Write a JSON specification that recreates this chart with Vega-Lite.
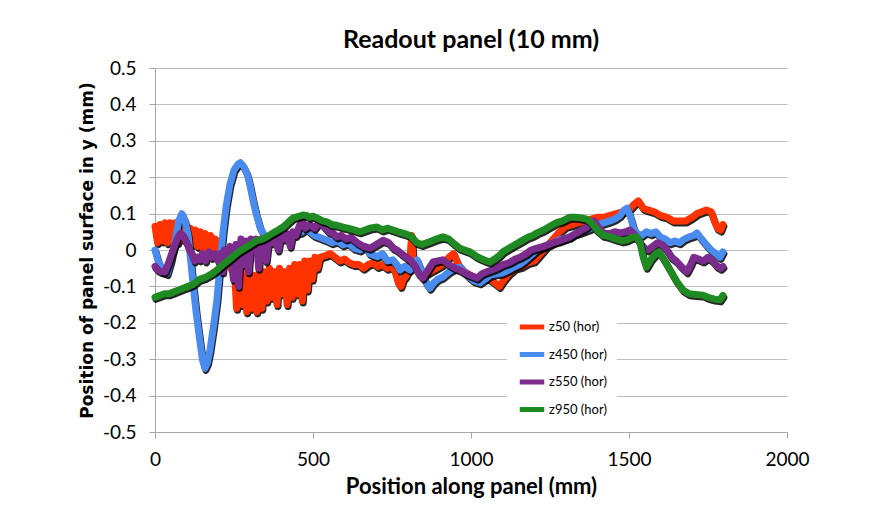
{
  "$schema": "https://vega.github.io/schema/vega-lite/v6.json",
  "autosize": {"type": "none"},
  "width": 632,
  "height": 364,
  "padding": {"left": 155, "top": 68, "right": 82, "bottom": 93},
  "background": "white",
  "title": {"text": "Readout panel (10 mm)", "font": "Lato", "fontSize": 25, "fontWeight": "bold", "color": "black", "anchor": "middle", "offset": 6},
  "config": {
    "view": {"stroke": null},
    "axis": {"labelFont": "Lato", "labelColor": "black", "titleColor": "black", "domainColor": "#A6A6A6", "tickColor": "#A6A6A6", "gridColor": "#BDBDBD", "gridWidth": 1},
    "legend": {"orient": "none", "legendX": 352, "legendY": 234, "fillColor": "white", "padding": 10, "symbolType": "stroke", "symbolStrokeWidth": 5, "symbolSize": 600, "labelFont": "Lato", "labelFontSize": 13, "labelColor": "black", "rowPadding": 2.5, "labelOffset": 2}
  },
  "data": {"values": [
    {"s":"z50 (hor)","x":0,"y":0.065},{"s":"z50 (hor)","x":8,"y":0.02},{"s":"z50 (hor)","x":16,"y":0.07},{"s":"z50 (hor)","x":24,"y":0.025},{"s":"z50 (hor)","x":32,"y":0.075},{"s":"z50 (hor)","x":40,"y":0.02},{"s":"z50 (hor)","x":48,"y":0.075},{"s":"z50 (hor)","x":56,"y":0.03},{"s":"z50 (hor)","x":64,"y":0.075},{"s":"z50 (hor)","x":72,"y":0.02},{"s":"z50 (hor)","x":80,"y":0.07},{"s":"z50 (hor)","x":88,"y":0.03},{"s":"z50 (hor)","x":96,"y":0.065},{"s":"z50 (hor)","x":104,"y":0.02},{"s":"z50 (hor)","x":112,"y":0.06},{"s":"z50 (hor)","x":120,"y":0.015},{"s":"z50 (hor)","x":128,"y":0.055},{"s":"z50 (hor)","x":136,"y":0.01},{"s":"z50 (hor)","x":144,"y":0.05},{"s":"z50 (hor)","x":152,"y":0.005},{"s":"z50 (hor)","x":160,"y":0.045},{"s":"z50 (hor)","x":168,"y":0.0},{"s":"z50 (hor)","x":176,"y":0.04},{"s":"z50 (hor)","x":184,"y":-0.005},{"s":"z50 (hor)","x":192,"y":0.03},{"s":"z50 (hor)","x":200,"y":-0.01},{"s":"z50 (hor)","x":210,"y":0.015},{"s":"z50 (hor)","x":220,"y":-0.03},{"s":"z50 (hor)","x":230,"y":-0.01},{"s":"z50 (hor)","x":240,"y":-0.05},{"s":"z50 (hor)","x":250,"y":-0.03},{"s":"z50 (hor)","x":258,"y":-0.16},{"s":"z50 (hor)","x":266,"y":-0.04},{"s":"z50 (hor)","x":274,"y":-0.15},{"s":"z50 (hor)","x":282,"y":-0.05},{"s":"z50 (hor)","x":290,"y":-0.17},{"s":"z50 (hor)","x":298,"y":-0.06},{"s":"z50 (hor)","x":306,"y":-0.16},{"s":"z50 (hor)","x":314,"y":-0.07},{"s":"z50 (hor)","x":322,"y":-0.17},{"s":"z50 (hor)","x":330,"y":-0.05},{"s":"z50 (hor)","x":338,"y":-0.16},{"s":"z50 (hor)","x":346,"y":-0.06},{"s":"z50 (hor)","x":354,"y":-0.14},{"s":"z50 (hor)","x":362,"y":-0.05},{"s":"z50 (hor)","x":370,"y":-0.13},{"s":"z50 (hor)","x":378,"y":-0.06},{"s":"z50 (hor)","x":386,"y":-0.15},{"s":"z50 (hor)","x":394,"y":-0.05},{"s":"z50 (hor)","x":402,"y":-0.12},{"s":"z50 (hor)","x":410,"y":-0.06},{"s":"z50 (hor)","x":418,"y":-0.15},{"s":"z50 (hor)","x":426,"y":-0.05},{"s":"z50 (hor)","x":434,"y":-0.13},{"s":"z50 (hor)","x":442,"y":-0.04},{"s":"z50 (hor)","x":450,"y":-0.12},{"s":"z50 (hor)","x":458,"y":-0.04},{"s":"z50 (hor)","x":466,"y":-0.14},{"s":"z50 (hor)","x":474,"y":-0.03},{"s":"z50 (hor)","x":482,"y":-0.11},{"s":"z50 (hor)","x":490,"y":-0.03},{"s":"z50 (hor)","x":498,"y":-0.08},{"s":"z50 (hor)","x":506,"y":-0.02},{"s":"z50 (hor)","x":514,"y":-0.05},{"s":"z50 (hor)","x":522,"y":-0.02},{"s":"z50 (hor)","x":540,"y":-0.015},{"s":"z50 (hor)","x":555,"y":-0.01},{"s":"z50 (hor)","x":570,"y":-0.02},{"s":"z50 (hor)","x":585,"y":-0.03},{"s":"z50 (hor)","x":600,"y":-0.025},{"s":"z50 (hor)","x":615,"y":-0.035},{"s":"z50 (hor)","x":630,"y":-0.04},{"s":"z50 (hor)","x":645,"y":-0.04},{"s":"z50 (hor)","x":660,"y":-0.05},{"s":"z50 (hor)","x":675,"y":-0.04},{"s":"z50 (hor)","x":690,"y":-0.035},{"s":"z50 (hor)","x":705,"y":-0.045},{"s":"z50 (hor)","x":720,"y":-0.04},{"s":"z50 (hor)","x":735,"y":-0.05},{"s":"z50 (hor)","x":750,"y":-0.045},{"s":"z50 (hor)","x":760,"y":-0.06},{"s":"z50 (hor)","x":770,"y":-0.09},{"s":"z50 (hor)","x":778,"y":-0.1},{"s":"z50 (hor)","x":786,"y":-0.08},{"s":"z50 (hor)","x":795,"y":-0.07},{"s":"z50 (hor)","x":805,"y":-0.05},{"s":"z50 (hor)","x":812,"y":0.04},{"s":"z50 (hor)","x":818,"y":-0.04},{"s":"z50 (hor)","x":830,"y":-0.05},{"s":"z50 (hor)","x":850,"y":-0.07},{"s":"z50 (hor)","x":870,"y":-0.06},{"s":"z50 (hor)","x":890,"y":-0.05},{"s":"z50 (hor)","x":910,"y":-0.04},{"s":"z50 (hor)","x":930,"y":-0.02},{"s":"z50 (hor)","x":945,"y":-0.01},{"s":"z50 (hor)","x":960,"y":-0.04},{"s":"z50 (hor)","x":980,"y":-0.06},{"s":"z50 (hor)","x":1000,"y":-0.07},{"s":"z50 (hor)","x":1020,"y":-0.08},{"s":"z50 (hor)","x":1040,"y":-0.075},{"s":"z50 (hor)","x":1060,"y":-0.08},{"s":"z50 (hor)","x":1075,"y":-0.09},{"s":"z50 (hor)","x":1090,"y":-0.1},{"s":"z50 (hor)","x":1105,"y":-0.08},{"s":"z50 (hor)","x":1120,"y":-0.065},{"s":"z50 (hor)","x":1140,"y":-0.05},{"s":"z50 (hor)","x":1160,"y":-0.045},{"s":"z50 (hor)","x":1180,"y":-0.035},{"s":"z50 (hor)","x":1200,"y":-0.03},{"s":"z50 (hor)","x":1220,"y":-0.01},{"s":"z50 (hor)","x":1240,"y":0.01},{"s":"z50 (hor)","x":1260,"y":0.03},{"s":"z50 (hor)","x":1280,"y":0.05},{"s":"z50 (hor)","x":1300,"y":0.065},{"s":"z50 (hor)","x":1320,"y":0.07},{"s":"z50 (hor)","x":1340,"y":0.075},{"s":"z50 (hor)","x":1360,"y":0.08},{"s":"z50 (hor)","x":1380,"y":0.085},{"s":"z50 (hor)","x":1400,"y":0.09},{"s":"z50 (hor)","x":1420,"y":0.09},{"s":"z50 (hor)","x":1440,"y":0.095},{"s":"z50 (hor)","x":1460,"y":0.1},{"s":"z50 (hor)","x":1480,"y":0.105},{"s":"z50 (hor)","x":1500,"y":0.11},{"s":"z50 (hor)","x":1515,"y":0.125},{"s":"z50 (hor)","x":1530,"y":0.135},{"s":"z50 (hor)","x":1545,"y":0.115},{"s":"z50 (hor)","x":1560,"y":0.11},{"s":"z50 (hor)","x":1580,"y":0.105},{"s":"z50 (hor)","x":1600,"y":0.095},{"s":"z50 (hor)","x":1620,"y":0.09},{"s":"z50 (hor)","x":1640,"y":0.08},{"s":"z50 (hor)","x":1660,"y":0.08},{"s":"z50 (hor)","x":1680,"y":0.08},{"s":"z50 (hor)","x":1700,"y":0.09},{"s":"z50 (hor)","x":1715,"y":0.1},{"s":"z50 (hor)","x":1730,"y":0.105},{"s":"z50 (hor)","x":1745,"y":0.11},{"s":"z50 (hor)","x":1760,"y":0.105},{"s":"z50 (hor)","x":1770,"y":0.08},{"s":"z50 (hor)","x":1780,"y":0.06},{"s":"z50 (hor)","x":1790,"y":0.055},{"s":"z50 (hor)","x":1797,"y":0.07},

    {"s":"z450 (hor)","x":0,"y":0.0},{"s":"z450 (hor)","x":10,"y":-0.03},{"s":"z450 (hor)","x":25,"y":-0.06},{"s":"z450 (hor)","x":38,"y":-0.065},{"s":"z450 (hor)","x":50,"y":-0.03},{"s":"z450 (hor)","x":63,"y":0.02},{"s":"z450 (hor)","x":75,"y":0.08},{"s":"z450 (hor)","x":85,"y":0.1},{"s":"z450 (hor)","x":95,"y":0.08},{"s":"z450 (hor)","x":105,"y":0.04},{"s":"z450 (hor)","x":113,"y":-0.03},{"s":"z450 (hor)","x":120,"y":-0.09},{"s":"z450 (hor)","x":130,"y":-0.17},{"s":"z450 (hor)","x":142,"y":-0.25},{"s":"z450 (hor)","x":150,"y":-0.3},{"s":"z450 (hor)","x":158,"y":-0.325},{"s":"z450 (hor)","x":166,"y":-0.31},{"s":"z450 (hor)","x":174,"y":-0.275},{"s":"z450 (hor)","x":185,"y":-0.21},{"s":"z450 (hor)","x":196,"y":-0.137},{"s":"z450 (hor)","x":205,"y":-0.05},{"s":"z450 (hor)","x":215,"y":0.047},{"s":"z450 (hor)","x":225,"y":0.12},{"s":"z450 (hor)","x":237,"y":0.18},{"s":"z450 (hor)","x":250,"y":0.22},{"s":"z450 (hor)","x":262,"y":0.235},{"s":"z450 (hor)","x":270,"y":0.24},{"s":"z450 (hor)","x":280,"y":0.23},{"s":"z450 (hor)","x":291,"y":0.21},{"s":"z450 (hor)","x":300,"y":0.18},{"s":"z450 (hor)","x":310,"y":0.137},{"s":"z450 (hor)","x":320,"y":0.1},{"s":"z450 (hor)","x":332,"y":0.063},{"s":"z450 (hor)","x":348,"y":0.036},{"s":"z450 (hor)","x":365,"y":0.025},{"s":"z450 (hor)","x":385,"y":0.03},{"s":"z450 (hor)","x":405,"y":0.035},{"s":"z450 (hor)","x":425,"y":0.04},{"s":"z450 (hor)","x":445,"y":0.045},{"s":"z450 (hor)","x":465,"y":0.05},{"s":"z450 (hor)","x":480,"y":0.06},{"s":"z450 (hor)","x":490,"y":0.05},{"s":"z450 (hor)","x":505,"y":0.04},{"s":"z450 (hor)","x":520,"y":0.035},{"s":"z450 (hor)","x":544,"y":0.027},{"s":"z450 (hor)","x":560,"y":0.02},{"s":"z450 (hor)","x":575,"y":0.025},{"s":"z450 (hor)","x":595,"y":0.014},{"s":"z450 (hor)","x":610,"y":0.02},{"s":"z450 (hor)","x":630,"y":0.005},{"s":"z450 (hor)","x":649,"y":0.0},{"s":"z450 (hor)","x":665,"y":0.01},{"s":"z450 (hor)","x":680,"y":-0.01},{"s":"z450 (hor)","x":703,"y":-0.018},{"s":"z450 (hor)","x":720,"y":-0.01},{"s":"z450 (hor)","x":735,"y":-0.03},{"s":"z450 (hor)","x":753,"y":-0.027},{"s":"z450 (hor)","x":765,"y":-0.04},{"s":"z450 (hor)","x":775,"y":-0.055},{"s":"z450 (hor)","x":790,"y":-0.045},{"s":"z450 (hor)","x":807,"y":-0.055},{"s":"z450 (hor)","x":818,"y":-0.04},{"s":"z450 (hor)","x":829,"y":-0.027},{"s":"z450 (hor)","x":845,"y":-0.06},{"s":"z450 (hor)","x":858,"y":-0.09},{"s":"z450 (hor)","x":870,"y":-0.105},{"s":"z450 (hor)","x":882,"y":-0.09},{"s":"z450 (hor)","x":895,"y":-0.08},{"s":"z450 (hor)","x":911,"y":-0.074},{"s":"z450 (hor)","x":930,"y":-0.06},{"s":"z450 (hor)","x":950,"y":-0.05},{"s":"z450 (hor)","x":965,"y":-0.047},{"s":"z450 (hor)","x":980,"y":-0.06},{"s":"z450 (hor)","x":995,"y":-0.075},{"s":"z450 (hor)","x":1010,"y":-0.085},{"s":"z450 (hor)","x":1028,"y":-0.09},{"s":"z450 (hor)","x":1045,"y":-0.08},{"s":"z450 (hor)","x":1060,"y":-0.07},{"s":"z450 (hor)","x":1080,"y":-0.065},{"s":"z450 (hor)","x":1101,"y":-0.063},{"s":"z450 (hor)","x":1120,"y":-0.055},{"s":"z450 (hor)","x":1140,"y":-0.045},{"s":"z450 (hor)","x":1155,"y":-0.04},{"s":"z450 (hor)","x":1170,"y":-0.03},{"s":"z450 (hor)","x":1190,"y":-0.015},{"s":"z450 (hor)","x":1209,"y":0.0},{"s":"z450 (hor)","x":1230,"y":0.01},{"s":"z450 (hor)","x":1250,"y":0.015},{"s":"z450 (hor)","x":1270,"y":0.025},{"s":"z450 (hor)","x":1290,"y":0.03},{"s":"z450 (hor)","x":1313,"y":0.036},{"s":"z450 (hor)","x":1330,"y":0.045},{"s":"z450 (hor)","x":1350,"y":0.05},{"s":"z450 (hor)","x":1380,"y":0.06},{"s":"z450 (hor)","x":1400,"y":0.07},{"s":"z450 (hor)","x":1418,"y":0.074},{"s":"z450 (hor)","x":1440,"y":0.08},{"s":"z450 (hor)","x":1455,"y":0.085},{"s":"z450 (hor)","x":1472,"y":0.095},{"s":"z450 (hor)","x":1485,"y":0.11},{"s":"z450 (hor)","x":1494,"y":0.115},{"s":"z450 (hor)","x":1505,"y":0.09},{"s":"z450 (hor)","x":1515,"y":0.06},{"s":"z450 (hor)","x":1525,"y":0.045},{"s":"z450 (hor)","x":1540,"y":0.04},{"s":"z450 (hor)","x":1555,"y":0.05},{"s":"z450 (hor)","x":1570,"y":0.045},{"s":"z450 (hor)","x":1585,"y":0.05},{"s":"z450 (hor)","x":1600,"y":0.035},{"s":"z450 (hor)","x":1615,"y":0.03},{"s":"z450 (hor)","x":1630,"y":0.02},{"s":"z450 (hor)","x":1645,"y":0.025},{"s":"z450 (hor)","x":1660,"y":0.02},{"s":"z450 (hor)","x":1675,"y":0.03},{"s":"z450 (hor)","x":1690,"y":0.036},{"s":"z450 (hor)","x":1705,"y":0.04},{"s":"z450 (hor)","x":1715,"y":0.047},{"s":"z450 (hor)","x":1730,"y":0.03},{"s":"z450 (hor)","x":1745,"y":0.014},{"s":"z450 (hor)","x":1760,"y":0.0},{"s":"z450 (hor)","x":1775,"y":-0.01},{"s":"z450 (hor)","x":1788,"y":-0.02},{"s":"z450 (hor)","x":1797,"y":-0.005},

    {"s":"z550 (hor)","x":0,"y":-0.045},{"s":"z550 (hor)","x":10,"y":-0.055},{"s":"z550 (hor)","x":20,"y":-0.06},{"s":"z550 (hor)","x":32,"y":-0.06},{"s":"z550 (hor)","x":45,"y":-0.03},{"s":"z550 (hor)","x":57,"y":0.0},{"s":"z550 (hor)","x":70,"y":0.03},{"s":"z550 (hor)","x":80,"y":0.045},{"s":"z550 (hor)","x":89,"y":0.04},{"s":"z550 (hor)","x":100,"y":0.02},{"s":"z550 (hor)","x":110,"y":0.0},{"s":"z550 (hor)","x":117,"y":-0.01},{"s":"z550 (hor)","x":125,"y":-0.03},{"s":"z550 (hor)","x":135,"y":-0.02},{"s":"z550 (hor)","x":142,"y":-0.027},{"s":"z550 (hor)","x":150,"y":-0.01},{"s":"z550 (hor)","x":160,"y":-0.03},{"s":"z550 (hor)","x":170,"y":-0.005},{"s":"z550 (hor)","x":180,"y":-0.02},{"s":"z550 (hor)","x":190,"y":-0.01},{"s":"z550 (hor)","x":200,"y":-0.03},{"s":"z550 (hor)","x":207,"y":-0.01},{"s":"z550 (hor)","x":214,"y":-0.06},{"s":"z550 (hor)","x":220,"y":0.0},{"s":"z550 (hor)","x":228,"y":-0.02},{"s":"z550 (hor)","x":237,"y":0.01},{"s":"z550 (hor)","x":248,"y":-0.08},{"s":"z550 (hor)","x":256,"y":0.015},{"s":"z550 (hor)","x":264,"y":-0.1},{"s":"z550 (hor)","x":272,"y":0.03},{"s":"z550 (hor)","x":280,"y":-0.04},{"s":"z550 (hor)","x":288,"y":0.025},{"s":"z550 (hor)","x":296,"y":-0.06},{"s":"z550 (hor)","x":304,"y":0.03},{"s":"z550 (hor)","x":312,"y":0.01},{"s":"z550 (hor)","x":320,"y":0.03},{"s":"z550 (hor)","x":328,"y":-0.05},{"s":"z550 (hor)","x":336,"y":0.03},{"s":"z550 (hor)","x":344,"y":0.015},{"s":"z550 (hor)","x":352,"y":-0.03},{"s":"z550 (hor)","x":360,"y":0.035},{"s":"z550 (hor)","x":370,"y":0.02},{"s":"z550 (hor)","x":380,"y":0.035},{"s":"z550 (hor)","x":390,"y":0.0},{"s":"z550 (hor)","x":398,"y":0.04},{"s":"z550 (hor)","x":408,"y":0.03},{"s":"z550 (hor)","x":418,"y":0.045},{"s":"z550 (hor)","x":428,"y":0.01},{"s":"z550 (hor)","x":436,"y":0.05},{"s":"z550 (hor)","x":446,"y":0.04},{"s":"z550 (hor)","x":456,"y":0.065},{"s":"z550 (hor)","x":466,"y":0.08},{"s":"z550 (hor)","x":476,"y":0.06},{"s":"z550 (hor)","x":490,"y":0.07},{"s":"z550 (hor)","x":505,"y":0.06},{"s":"z550 (hor)","x":522,"y":0.08},{"s":"z550 (hor)","x":535,"y":0.065},{"s":"z550 (hor)","x":550,"y":0.05},{"s":"z550 (hor)","x":565,"y":0.045},{"s":"z550 (hor)","x":576,"y":0.036},{"s":"z550 (hor)","x":590,"y":0.04},{"s":"z550 (hor)","x":605,"y":0.03},{"s":"z550 (hor)","x":620,"y":0.035},{"s":"z550 (hor)","x":640,"y":0.02},{"s":"z550 (hor)","x":660,"y":0.01},{"s":"z550 (hor)","x":680,"y":0.005},{"s":"z550 (hor)","x":700,"y":0.015},{"s":"z550 (hor)","x":722,"y":0.027},{"s":"z550 (hor)","x":740,"y":0.02},{"s":"z550 (hor)","x":755,"y":0.005},{"s":"z550 (hor)","x":766,"y":0.0},{"s":"z550 (hor)","x":780,"y":-0.01},{"s":"z550 (hor)","x":795,"y":-0.02},{"s":"z550 (hor)","x":807,"y":-0.027},{"s":"z550 (hor)","x":820,"y":-0.04},{"s":"z550 (hor)","x":835,"y":-0.065},{"s":"z550 (hor)","x":848,"y":-0.077},{"s":"z550 (hor)","x":860,"y":-0.06},{"s":"z550 (hor)","x":880,"y":-0.033},{"s":"z550 (hor)","x":895,"y":-0.03},{"s":"z550 (hor)","x":911,"y":-0.027},{"s":"z550 (hor)","x":930,"y":-0.04},{"s":"z550 (hor)","x":950,"y":-0.05},{"s":"z550 (hor)","x":965,"y":-0.055},{"s":"z550 (hor)","x":985,"y":-0.065},{"s":"z550 (hor)","x":1000,"y":-0.07},{"s":"z550 (hor)","x":1019,"y":-0.077},{"s":"z550 (hor)","x":1035,"y":-0.065},{"s":"z550 (hor)","x":1050,"y":-0.06},{"s":"z550 (hor)","x":1065,"y":-0.055},{"s":"z550 (hor)","x":1080,"y":-0.05},{"s":"z550 (hor)","x":1101,"y":-0.04},{"s":"z550 (hor)","x":1120,"y":-0.035},{"s":"z550 (hor)","x":1140,"y":-0.025},{"s":"z550 (hor)","x":1155,"y":-0.02},{"s":"z550 (hor)","x":1175,"y":-0.01},{"s":"z550 (hor)","x":1190,"y":0.0},{"s":"z550 (hor)","x":1209,"y":0.005},{"s":"z550 (hor)","x":1230,"y":0.01},{"s":"z550 (hor)","x":1245,"y":0.015},{"s":"z550 (hor)","x":1260,"y":0.02},{"s":"z550 (hor)","x":1280,"y":0.025},{"s":"z550 (hor)","x":1295,"y":0.03},{"s":"z550 (hor)","x":1313,"y":0.036},{"s":"z550 (hor)","x":1330,"y":0.045},{"s":"z550 (hor)","x":1350,"y":0.055},{"s":"z550 (hor)","x":1367,"y":0.063},{"s":"z550 (hor)","x":1380,"y":0.075},{"s":"z550 (hor)","x":1390,"y":0.08},{"s":"z550 (hor)","x":1400,"y":0.065},{"s":"z550 (hor)","x":1418,"y":0.047},{"s":"z550 (hor)","x":1440,"y":0.045},{"s":"z550 (hor)","x":1455,"y":0.05},{"s":"z550 (hor)","x":1472,"y":0.047},{"s":"z550 (hor)","x":1490,"y":0.05},{"s":"z550 (hor)","x":1503,"y":0.055},{"s":"z550 (hor)","x":1520,"y":0.04},{"s":"z550 (hor)","x":1535,"y":0.02},{"s":"z550 (hor)","x":1550,"y":0.005},{"s":"z550 (hor)","x":1560,"y":0.0},{"s":"z550 (hor)","x":1575,"y":0.01},{"s":"z550 (hor)","x":1590,"y":0.02},{"s":"z550 (hor)","x":1605,"y":0.015},{"s":"z550 (hor)","x":1620,"y":0.0},{"s":"z550 (hor)","x":1635,"y":-0.02},{"s":"z550 (hor)","x":1650,"y":-0.03},{"s":"z550 (hor)","x":1665,"y":-0.045},{"s":"z550 (hor)","x":1683,"y":-0.06},{"s":"z550 (hor)","x":1695,"y":-0.04},{"s":"z550 (hor)","x":1705,"y":-0.02},{"s":"z550 (hor)","x":1720,"y":-0.025},{"s":"z550 (hor)","x":1735,"y":-0.03},{"s":"z550 (hor)","x":1750,"y":-0.02},{"s":"z550 (hor)","x":1765,"y":-0.03},{"s":"z550 (hor)","x":1780,"y":-0.045},{"s":"z550 (hor)","x":1790,"y":-0.05},{"s":"z550 (hor)","x":1797,"y":-0.045},

    {"s":"z950 (hor)","x":0,"y":-0.13},{"s":"z950 (hor)","x":15,"y":-0.125},{"s":"z950 (hor)","x":30,"y":-0.12},{"s":"z950 (hor)","x":45,"y":-0.12},{"s":"z950 (hor)","x":60,"y":-0.115},{"s":"z950 (hor)","x":75,"y":-0.11},{"s":"z950 (hor)","x":89,"y":-0.105},{"s":"z950 (hor)","x":105,"y":-0.1},{"s":"z950 (hor)","x":120,"y":-0.095},{"s":"z950 (hor)","x":142,"y":-0.08},{"s":"z950 (hor)","x":160,"y":-0.075},{"s":"z950 (hor)","x":180,"y":-0.065},{"s":"z950 (hor)","x":196,"y":-0.055},{"s":"z950 (hor)","x":215,"y":-0.04},{"s":"z950 (hor)","x":230,"y":-0.03},{"s":"z950 (hor)","x":247,"y":-0.018},{"s":"z950 (hor)","x":265,"y":-0.005},{"s":"z950 (hor)","x":283,"y":0.005},{"s":"z950 (hor)","x":301,"y":0.014},{"s":"z950 (hor)","x":320,"y":0.025},{"s":"z950 (hor)","x":340,"y":0.03},{"s":"z950 (hor)","x":354,"y":0.036},{"s":"z950 (hor)","x":370,"y":0.045},{"s":"z950 (hor)","x":390,"y":0.055},{"s":"z950 (hor)","x":405,"y":0.063},{"s":"z950 (hor)","x":420,"y":0.075},{"s":"z950 (hor)","x":437,"y":0.088},{"s":"z950 (hor)","x":452,"y":0.092},{"s":"z950 (hor)","x":468,"y":0.096},{"s":"z950 (hor)","x":480,"y":0.095},{"s":"z950 (hor)","x":490,"y":0.09},{"s":"z950 (hor)","x":500,"y":0.093},{"s":"z950 (hor)","x":512,"y":0.088},{"s":"z950 (hor)","x":530,"y":0.08},{"s":"z950 (hor)","x":544,"y":0.077},{"s":"z950 (hor)","x":560,"y":0.07},{"s":"z950 (hor)","x":575,"y":0.068},{"s":"z950 (hor)","x":595,"y":0.063},{"s":"z950 (hor)","x":610,"y":0.06},{"s":"z950 (hor)","x":630,"y":0.055},{"s":"z950 (hor)","x":649,"y":0.05},{"s":"z950 (hor)","x":665,"y":0.055},{"s":"z950 (hor)","x":680,"y":0.06},{"s":"z950 (hor)","x":703,"y":0.063},{"s":"z950 (hor)","x":720,"y":0.055},{"s":"z950 (hor)","x":735,"y":0.06},{"s":"z950 (hor)","x":753,"y":0.055},{"s":"z950 (hor)","x":770,"y":0.05},{"s":"z950 (hor)","x":790,"y":0.045},{"s":"z950 (hor)","x":807,"y":0.04},{"s":"z950 (hor)","x":818,"y":0.03},{"s":"z950 (hor)","x":829,"y":0.02},{"s":"z950 (hor)","x":845,"y":0.015},{"s":"z950 (hor)","x":860,"y":0.02},{"s":"z950 (hor)","x":875,"y":0.025},{"s":"z950 (hor)","x":890,"y":0.03},{"s":"z950 (hor)","x":911,"y":0.036},{"s":"z950 (hor)","x":930,"y":0.03},{"s":"z950 (hor)","x":950,"y":0.015},{"s":"z950 (hor)","x":965,"y":0.005},{"s":"z950 (hor)","x":980,"y":0.0},{"s":"z950 (hor)","x":997,"y":-0.005},{"s":"z950 (hor)","x":1019,"y":-0.018},{"s":"z950 (hor)","x":1035,"y":-0.025},{"s":"z950 (hor)","x":1050,"y":-0.03},{"s":"z950 (hor)","x":1060,"y":-0.033},{"s":"z950 (hor)","x":1075,"y":-0.025},{"s":"z950 (hor)","x":1090,"y":-0.015},{"s":"z950 (hor)","x":1101,"y":-0.005},{"s":"z950 (hor)","x":1120,"y":0.005},{"s":"z950 (hor)","x":1140,"y":0.015},{"s":"z950 (hor)","x":1160,"y":0.025},{"s":"z950 (hor)","x":1180,"y":0.035},{"s":"z950 (hor)","x":1195,"y":0.04},{"s":"z950 (hor)","x":1209,"y":0.047},{"s":"z950 (hor)","x":1230,"y":0.055},{"s":"z950 (hor)","x":1250,"y":0.065},{"s":"z950 (hor)","x":1270,"y":0.075},{"s":"z950 (hor)","x":1290,"y":0.08},{"s":"z950 (hor)","x":1313,"y":0.09},{"s":"z950 (hor)","x":1330,"y":0.09},{"s":"z950 (hor)","x":1350,"y":0.088},{"s":"z950 (hor)","x":1367,"y":0.085},{"s":"z950 (hor)","x":1380,"y":0.075},{"s":"z950 (hor)","x":1390,"y":0.065},{"s":"z950 (hor)","x":1399,"y":0.055},{"s":"z950 (hor)","x":1420,"y":0.04},{"s":"z950 (hor)","x":1440,"y":0.036},{"s":"z950 (hor)","x":1460,"y":0.03},{"s":"z950 (hor)","x":1480,"y":0.025},{"s":"z950 (hor)","x":1494,"y":0.028},{"s":"z950 (hor)","x":1510,"y":0.035},{"s":"z950 (hor)","x":1525,"y":0.036},{"s":"z950 (hor)","x":1535,"y":0.02},{"s":"z950 (hor)","x":1545,"y":-0.02},{"s":"z950 (hor)","x":1555,"y":-0.047},{"s":"z950 (hor)","x":1570,"y":-0.025},{"s":"z950 (hor)","x":1585,"y":-0.01},{"s":"z950 (hor)","x":1595,"y":-0.005},{"s":"z950 (hor)","x":1610,"y":-0.025},{"s":"z950 (hor)","x":1630,"y":-0.055},{"s":"z950 (hor)","x":1650,"y":-0.085},{"s":"z950 (hor)","x":1671,"y":-0.11},{"s":"z950 (hor)","x":1690,"y":-0.12},{"s":"z950 (hor)","x":1710,"y":-0.122},{"s":"z950 (hor)","x":1734,"y":-0.124},{"s":"z950 (hor)","x":1750,"y":-0.13},{"s":"z950 (hor)","x":1770,"y":-0.135},{"s":"z950 (hor)","x":1788,"y":-0.137},{"s":"z950 (hor)","x":1797,"y":-0.125}
  ]},
  "encoding": {
    "x": {"field": "x", "type": "quantitative", "scale": {"domain": [0, 2000], "nice": false},
      "axis": {"title": "Position along panel (mm)", "titleFont": "Lato", "titleFontSize": 22, "titleFontWeight": "bold", "titlePadding": 7, "values": [0, 500, 1000, 1500, 2000], "format": "d", "grid": false, "tickSize": 6, "labelPadding": 12, "labelFlush": false, "labelFont": "Lato", "labelFontSize": 19}},
    "y": {"field": "y", "type": "quantitative", "scale": {"domain": [-0.5, 0.5], "nice": false},
      "axis": {"title": "Position of panel surface in y (mm)", "titleFont": "DejaVu Sans", "titleFontSize": 17, "titleFontWeight": "bold", "titlePadding": 6, "values": [-0.5, -0.4, -0.3, -0.2, -0.1, 0, 0.1, 0.2, 0.3, 0.4, 0.5], "labelExpr": "datum.value == 0 ? '0' : toString(round(datum.value * 10) / 10)", "grid": true, "tickSize": 6, "labelPadding": 13, "labelFlush": false, "labelFont": "Lato", "labelFontSize": 19}}
  },
  "layer": [
    {"transform": [{"filter": "datum.s === 'z50 (hor)'"}], "mark": {"type": "line", "color": "black", "strokeWidth": 7, "xOffset": 1, "yOffset": 2, "opacity": 0.85, "strokeJoin": "round", "strokeCap": "round"}},
    {"transform": [{"filter": "datum.s === 'z50 (hor)'"}], "mark": {"type": "line", "strokeWidth": 7, "strokeJoin": "round", "strokeCap": "round"},
      "encoding": {"color": {"field": "s", "type": "nominal", "scale": {"domain": ["z50 (hor)", "z450 (hor)", "z550 (hor)", "z950 (hor)"], "range": ["#FF3300", "#4A8BEF", "#7B2C8C", "#1F8A22"]}, "legend": {"title": null}}}},
    {"transform": [{"filter": "datum.s === 'z450 (hor)'"}], "mark": {"type": "line", "color": "black", "strokeWidth": 7, "xOffset": 1, "yOffset": 2, "opacity": 0.85, "strokeJoin": "round", "strokeCap": "round"}},
    {"transform": [{"filter": "datum.s === 'z450 (hor)'"}], "mark": {"type": "line", "strokeWidth": 7, "strokeJoin": "round", "strokeCap": "round"},
      "encoding": {"color": {"field": "s", "type": "nominal", "scale": {"domain": ["z50 (hor)", "z450 (hor)", "z550 (hor)", "z950 (hor)"], "range": ["#FF3300", "#4A8BEF", "#7B2C8C", "#1F8A22"]}, "legend": {"title": null}}}},
    {"transform": [{"filter": "datum.s === 'z550 (hor)'"}], "mark": {"type": "line", "color": "black", "strokeWidth": 7, "xOffset": 1, "yOffset": 2, "opacity": 0.85, "strokeJoin": "round", "strokeCap": "round"}},
    {"transform": [{"filter": "datum.s === 'z550 (hor)'"}], "mark": {"type": "line", "strokeWidth": 7, "strokeJoin": "round", "strokeCap": "round"},
      "encoding": {"color": {"field": "s", "type": "nominal", "scale": {"domain": ["z50 (hor)", "z450 (hor)", "z550 (hor)", "z950 (hor)"], "range": ["#FF3300", "#4A8BEF", "#7B2C8C", "#1F8A22"]}, "legend": {"title": null}}}},
    {"transform": [{"filter": "datum.s === 'z950 (hor)'"}], "mark": {"type": "line", "color": "black", "strokeWidth": 7, "xOffset": 1, "yOffset": 2, "opacity": 0.85, "strokeJoin": "round", "strokeCap": "round"}},
    {"transform": [{"filter": "datum.s === 'z950 (hor)'"}], "mark": {"type": "line", "strokeWidth": 7, "strokeJoin": "round", "strokeCap": "round"},
      "encoding": {"color": {"field": "s", "type": "nominal", "scale": {"domain": ["z50 (hor)", "z450 (hor)", "z550 (hor)", "z950 (hor)"], "range": ["#FF3300", "#4A8BEF", "#7B2C8C", "#1F8A22"]}, "legend": {"title": null}}}}
  ]
}
